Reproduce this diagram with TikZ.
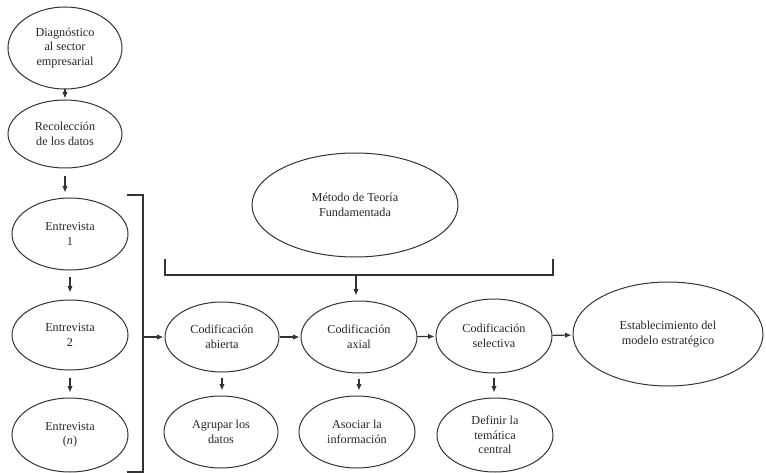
\documentclass[tikz,border=0pt]{standalone}
\usepackage{fontspec}
\setmainfont{Liberation Serif}
\usetikzlibrary{shapes.geometric,arrows.meta}
\definecolor{ln}{HTML}{333333}
\definecolor{tx}{HTML}{262626}
\tikzset{
  oval/.style n args={2}{ellipse, draw=ln, line width=1pt, inner sep=0pt,
    minimum width=#1, minimum height=#2, align=center, text=tx,
    font=\fontsize{12.2}{14.5}\selectfont},
  arr/.style={draw=ln, line width=1.1pt, -{Latex[length=6.5pt,width=5.5pt]}},
  brk/.style={draw=ln, line width=1.6pt}
}
\begin{document}
\begin{tikzpicture}[x=1pt,y=-1pt]
\useasboundingbox (0,0) rectangle (766,473);
% left column
\node[oval={114pt}{82pt}] (d1) at (65,48) {Diagnóstico\\al sector\\empresarial};
\node[oval={114pt}{68pt}] (d2) at (65,134) {Recolección\\de los datos};
\node[oval={116pt}{72pt}] (e1) at (70,234) {Entrevista\\1};
\node[oval={116pt}{70pt}] (e2) at (70,335) {Entrevista\\2};
\node[oval={116pt}{74pt}] (en) at (70,435) {Entrevista\\(\textit{n})};
% method
\node[oval={206pt}{104pt}] (m) at (355,205) {Método de Teoría\\Fundamentada};
% codification row
\node[oval={114pt}{70pt}] (ca) at (222,337) {Codificación\\abierta};
\node[oval={116pt}{72pt}] (ax) at (359,337) {Codificación\\axial};
\node[oval={116pt}{74pt}] (cs) at (494,336) {Codificación\\selectiva};
\node[oval={190pt}{104pt}] (es) at (668,334) {Establecimiento del\\modelo estratégico};
% bottom row
\node[oval={114pt}{72pt}] (ag) at (221,432) {Agrupar los\\datos};
\node[oval={116pt}{72pt}] (as) at (357,432) {Asociar la\\información};
\node[oval={116pt}{74pt}] (de) at (495,435) {Definir la\\temática\\central};
% brackets
\coordinate (lb1) at (127,195);
\coordinate (lb2) at (143,195);
\coordinate (lb3) at (143,472);
\coordinate (lb4) at (127,472);
\coordinate (bk) at (143,337);
\draw[brk] (lb1) -- (lb2) -- (lb3) -- (lb4);
\coordinate (tb1) at (165,259);
\coordinate (tb2) at (165,275);
\coordinate (tb3) at (553,275);
\coordinate (tb4) at (553,259);
\coordinate (tb) at (356,275);
\draw[brk] (tb1) -- (tb2) -- (tb3) -- (tb4);
% arrows left column
\draw[arr, shorten >=1pt] (d1) -- (d1 |- d2.north);
\draw[arr, shorten <=8pt, shorten >=5pt] (d2) -- (d2 |- e1.north);
\draw[arr, shorten <=7pt, shorten >=7pt] (e1) -- (e1 |- e2.north);
\draw[arr, shorten <=7pt, shorten >=5pt] (e2) -- (e2 |- en.north);
% bracket arrows
\draw[arr, shorten >=1pt] (bk) -- (ca);
\draw[arr, shorten >=5pt] (tb) -- (tb |- ax.north);
% horizontal arrows
\draw[arr, shorten >=1pt] (ca) -- (ax);
\draw[arr, shorten >=1pt] (ax) -- (cs);
\draw[arr, shorten >=1pt] (cs) -- (es);
% down arrows
\draw[arr, shorten <=5pt, shorten >=5pt] (ca) -- (ca |- ag.north);
\draw[arr, shorten <=5pt, shorten >=5pt] (ax) -- (ax |- as.north);
\draw[arr, shorten <=4pt, shorten >=5pt] (cs) -- (cs |- de.north);
\end{tikzpicture}
\end{document}
